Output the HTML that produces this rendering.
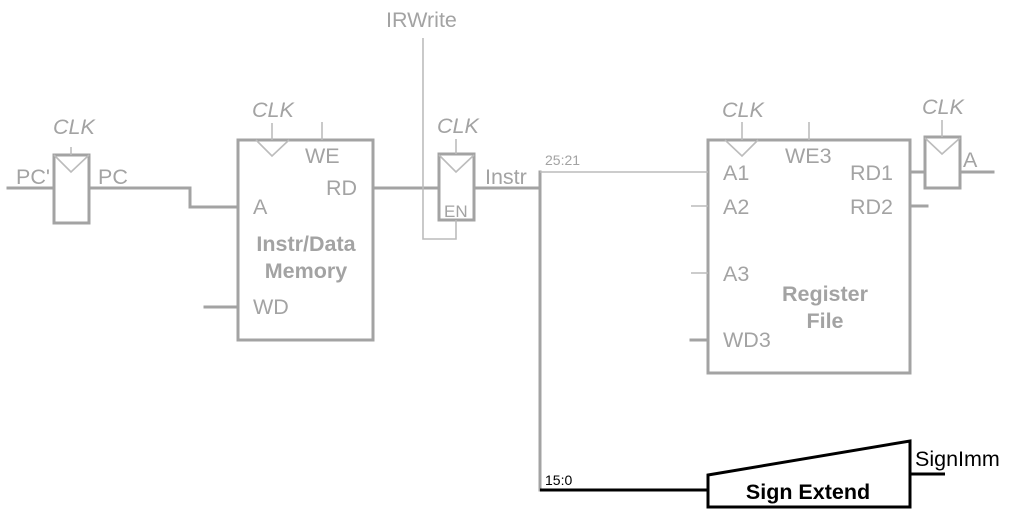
<!DOCTYPE html>
<html><head><meta charset="utf-8"><style>
html,body{margin:0;padding:0;background:#fff;}
svg{display:block;}
text{font-family:"Liberation Sans",Arial,sans-serif;}
</style></head><body>
<svg width="1019" height="521" viewBox="0 0 1019 521" xmlns="http://www.w3.org/2000/svg">
<g fill="none" stroke="#a3a3a3" stroke-width="3" stroke-linecap="square">
  <rect x="54" y="155" width="35" height="68"/>
  <line x1="8" y1="188" x2="54" y2="188"/>
  <polyline points="89,188 190,188 190,207 238,207"/>
  <rect x="238" y="140" width="135" height="200"/>
  <line x1="205" y1="307" x2="238" y2="307"/>
  <line x1="373" y1="188" x2="439" y2="188"/>
  <rect x="439" y="154" width="35" height="66"/>
  <line x1="474" y1="188" x2="540" y2="188"/>
  <line x1="540" y1="172" x2="540" y2="490"/>
  <rect x="708" y="140" width="202" height="233"/>
  <line x1="691" y1="340" x2="708" y2="340"/>
  <line x1="910" y1="172" x2="925" y2="172"/>
  <line x1="910" y1="206" x2="927" y2="206"/>
  <rect x="925" y="137" width="35" height="51"/>
  <line x1="960" y1="172" x2="993" y2="172"/>
</g>
<g fill="none" stroke="#bcbcbc" stroke-width="1.6">
  <polyline points="54,155 71,172 89,155"/>
  <line x1="71" y1="147" x2="71" y2="155"/>
  <polyline points="256,140 272,156 289,140"/>
  <line x1="272" y1="123" x2="272" y2="140"/>
  <line x1="322" y1="122" x2="322" y2="140"/>
  <polyline points="439,155 456,172 474,155"/>
  <line x1="456" y1="139" x2="456" y2="154"/>
  <polyline points="423,38 423,239 456,239 456,220"/>
  <line x1="540" y1="172" x2="708" y2="172"/>
  <polyline points="725,140 742,156 758,140"/>
  <line x1="742" y1="122" x2="742" y2="140"/>
  <line x1="809" y1="122" x2="809" y2="140"/>
  <line x1="691" y1="206" x2="708" y2="206"/>
  <line x1="691" y1="273" x2="708" y2="273"/>
  <polyline points="925,138 942,154 960,138"/>
  <line x1="942" y1="120" x2="942" y2="137"/>
</g>
<g fill="none" stroke="#000" stroke-width="3">
  <polyline points="540,490 708,490"/>
  <polygon points="708,475 910,441 910,507 708,507"/>
  <line x1="910" y1="474" x2="945" y2="474"/>
</g>
<g fill="#a3a3a3" font-size="21.5">
  <text x="53" y="134" font-style="italic">CLK</text>
  <text x="16" y="184">PC'</text>
  <text x="98" y="184">PC</text>
  <text x="252" y="117" font-style="italic">CLK</text>
  <text x="305" y="163">WE</text>
  <text x="326" y="195">RD</text>
  <text x="253" y="214">A</text>
  <text x="306" y="251" text-anchor="middle" font-weight="bold">Instr/Data</text>
  <text x="306" y="278" text-anchor="middle" font-weight="bold">Memory</text>
  <text x="253" y="314">WD</text>
  <text x="437" y="133" font-style="italic">CLK</text>
  <text x="386" y="27">IRWrite</text>
  <text x="485" y="184">Instr</text>
  <text x="444" y="217" font-size="17">EN</text>
  <text x="545" y="165" font-size="14">25:21</text>
  <text x="722" y="117" font-style="italic">CLK</text>
  <text x="785" y="163">WE3</text>
  <text x="723" y="180">A1</text>
  <text x="723" y="214">A2</text>
  <text x="723" y="281">A3</text>
  <text x="723" y="347">WD3</text>
  <text x="850" y="180">RD1</text>
  <text x="850" y="214">RD2</text>
  <text x="825" y="301" text-anchor="middle" font-weight="bold">Register</text>
  <text x="825" y="328" text-anchor="middle" font-weight="bold">File</text>
  <text x="922" y="114" font-style="italic">CLK</text>
  <text x="963" y="167">A</text>
</g>
<g fill="#000">
  <text x="545" y="485" font-size="14">15:0</text>
  <text x="808" y="499" font-size="21.5" font-weight="bold" text-anchor="middle">Sign Extend</text>
  <text x="915" y="466" font-size="21.5">SignImm</text>
</g>
</svg>
</body></html>
